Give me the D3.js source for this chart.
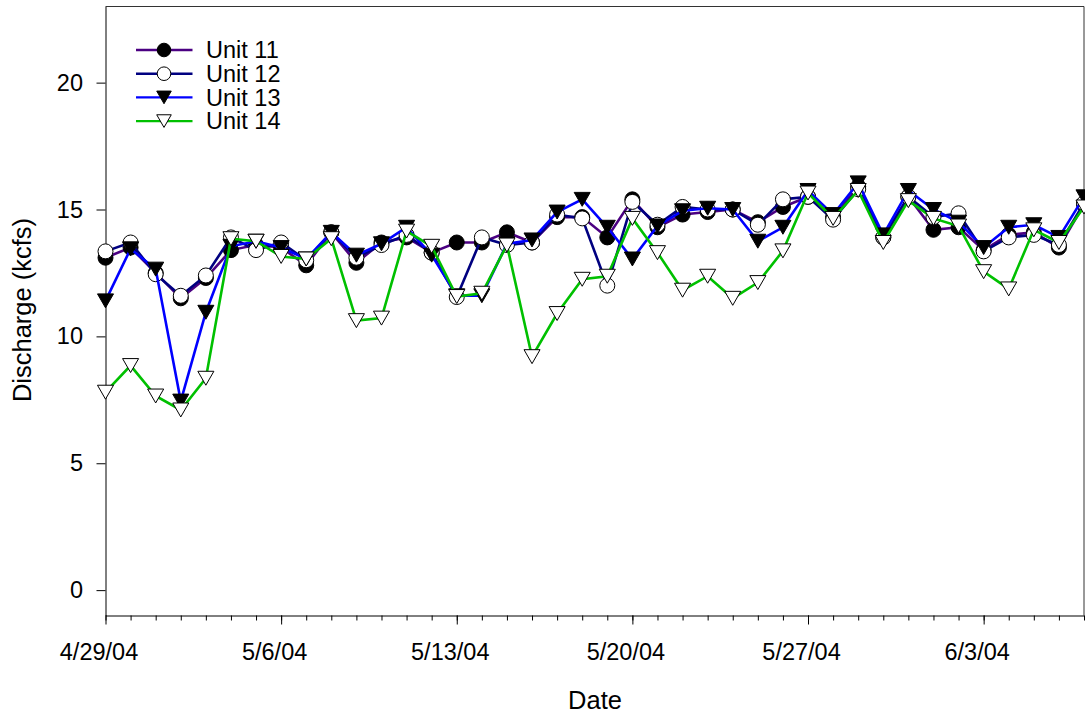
<!DOCTYPE html>
<html>
<head>
<meta charset="utf-8">
<script src="https://cdn.jsdelivr.net/npm/d3@7/dist/d3.min.js"></script>
<style>
  body { margin: 0; background: #fff; }
  svg { display: block; font-family: "Liberation Sans", Arial, sans-serif; }
</style>
</head>
<body>
<svg id="chart" width="1085" height="717"></svg>
<script>
// daily readings, 4/29/04 .. 6/7/04
const dates = [
    '2004-04-29', '2004-04-30', '2004-05-01', '2004-05-02', '2004-05-03', '2004-05-04', '2004-05-05',
    '2004-05-06', '2004-05-07', '2004-05-08', '2004-05-09', '2004-05-10', '2004-05-11', '2004-05-12',
    '2004-05-13', '2004-05-14', '2004-05-15', '2004-05-16', '2004-05-17', '2004-05-18', '2004-05-19',
    '2004-05-20', '2004-05-21', '2004-05-22', '2004-05-23', '2004-05-24', '2004-05-25', '2004-05-26',
    '2004-05-27', '2004-05-28', '2004-05-29', '2004-05-30', '2004-05-31', '2004-06-01', '2004-06-02',
    '2004-06-03', '2004-06-04', '2004-06-05', '2004-06-06', '2004-06-07',
]

const unit11 = [
    13.1, 13.5, 12.5, 11.5, 12.3, 13.4, 13.6, 13.5, 12.8, 14.1,
    12.9, 13.7, 13.9, 13.3, 13.7, 13.7, 14.1, 13.7, 14.7, 14.7,
    13.9, 15.4, 14.3, 14.8, 14.9, 15.0, 14.5, 15.1, 15.5, 14.7,
    15.9, 13.9, 15.5, 14.2, 14.3, 13.4, 14.0, 14.1, 13.5, 15.2,
]
const unit12 = [
    13.35, 13.7, 12.45, 11.6, 12.4, 13.9, 13.4, 13.7, 13.0, 14.1,
    13.1, 13.6, 14.0, 13.3, 11.55, 13.9, 13.6, 13.7, 14.8, 14.65,
    12.0, 15.3, 14.4, 15.1, 15.0, 15.0, 14.4, 15.4, 15.5, 14.6,
    15.8, 13.9, 15.5, 14.7, 14.85, 13.35, 13.9, 14.0, 13.6, 15.25,
]
const unit13 = [
    11.4, 13.45, 12.65, 7.45, 10.95, 13.55, 13.75, 13.5, 13.05, 14.1,
    13.2, 13.65, 14.3, 13.2, 11.6, 11.6, 13.65, 13.8, 14.9, 15.4,
    14.3, 13.05, 14.35, 14.95, 15.05, 15.0, 13.75, 14.3, 15.75, 14.8,
    16.05, 14.0, 15.75, 15.0, 14.5, 13.5, 14.3, 14.4, 13.9, 15.5,
]
const unit14 = [
    7.8, 8.85, 7.65, 7.1, 8.35, 13.85, 13.75, 13.15, 13.05, 13.85,
    10.62, 10.72, 14.15, 13.55, 11.57, 11.7, 13.6, 9.2, 10.9, 12.25,
    12.37, 14.65, 13.3, 11.82, 12.37, 11.5, 12.12, 13.37, 15.65, 14.65,
    15.75, 13.7, 15.35, 14.65, 14.35, 12.55, 11.87, 14.2, 13.7, 15.1,
]

const seriesNames = ['Unit 11', 'Unit 12', 'Unit 13', 'Unit 14']
const seriesColors = ['#4b0082', '#000080', '#0000ff', '#00c000']
const seriesSymbols = ['circle', 'circle', 'triangle', 'triangle']
const seriesFills = ['#000', '#fff', '#000', '#fff']

const xTickDates = ['2004-04-29', '2004-05-06', '2004-05-13', '2004-05-20', '2004-05-27', '2004-06-03']
const yTicks = [0, 5, 10, 15, 20]
const yDomain = [-1, 23]
const xDomain = ['2004-04-29', '2004-06-07']

const parse = d3.timeParse('%Y-%m-%d')
const fmt = d3.timeFormat('%-m/%-d/%y')

const margin = { left: 105.5, top: 6.5, right: 1084, bottom: 615.5 }
const svg = d3.select('#chart')

const x = d3.scaleTime()
    .domain(xDomain.map(parse))
    .range([margin.left, margin.right])
const y = d3.scaleLinear()
    .domain(yDomain)
    .range([margin.bottom, margin.top])

// frame top / right
svg.append('path')
    .attr('d', `M${margin.left},${margin.top}H${margin.right}V${margin.bottom}`)
    .attr('fill', 'none')
    .attr('stroke', '#333')
    .attr('stroke-width', 1)

// minor daily ticks
svg.append('g')
    .attr('transform', `translate(0,${margin.bottom})`)
    .call(d3.axisBottom(x).tickValues(dates.map(parse)).tickSize(5).tickFormat(''))
    .call(g => g.select('.domain').remove())
    .call(g => g.selectAll('line').attr('stroke', '#000'))

// major x axis
svg.append('g')
    .attr('transform', `translate(0,${margin.bottom})`)
    .call(d3.axisBottom(x).tickValues(xTickDates.map(parse)).tickSize(9).tickSizeOuter(0)
        .tickPadding(19).tickFormat(fmt))
    .call(g => g.select('.domain').attr('stroke', '#000'))
    .call(g => g.selectAll('line').attr('stroke', '#000'))
    .call(g => g.selectAll('text')
        .attr('x', -7)
        .attr('fill', '#000')
        .style('font-size', '23.5px')
        .style('font-family', '"Liberation Sans", Arial, sans-serif'))

// y axis
svg.append('g')
    .attr('transform', `translate(${margin.left},0)`)
    .call(d3.axisLeft(y).tickValues(yTicks).tickSize(9).tickSizeOuter(0).tickPadding(13.5))
    .call(g => g.select('.domain').attr('stroke', '#000'))
    .call(g => g.selectAll('line').attr('stroke', '#000'))
    .call(g => g.selectAll('text')
        .attr('fill', '#000')
        .style('font-size', '23.5px')
        .style('font-family', '"Liberation Sans", Arial, sans-serif'))

// axis titles
svg.append('text')
    .attr('transform', 'translate(31,310) rotate(-90)')
    .attr('text-anchor', 'middle')
    .style('font-size', '25.5px')
    .text('Discharge (kcfs)')

svg.append('text')
    .attr('x', 595)
    .attr('y', 709)
    .attr('text-anchor', 'middle')
    .style('font-size', '25.5px')
    .text('Date')

function symbolPath(type, s) {
    if (type === 'circle') {
        return `M${-s},0A${s},${s} 0 1,0 ${s},0A${s},${s} 0 1,0 ${-s},0Z`
    }
    // 下三角
    const h = s * 0.93
    return `M${-s * 1.07},${-h}L${s * 1.07},${-h}L0,${h}Z`
}

const allSeries = [unit11, unit12, unit13, unit14]
const line = d3.line()
    .x(d => x(d.date))
    .y(d => y(d.value))

allSeries.forEach((values, i) => {
    const pts = values.map((v, j) => ({ date: parse(dates[j]), value: v }))
    const g = svg.append('g').attr('class', `series s${i}`)

    g.append('path')
        .datum(pts)
        .attr('d', line)
        .attr('fill', 'none')
        .attr('stroke', seriesColors[i])
        .attr('stroke-width', 2.6)
        .attr('stroke-linejoin', 'miter')

    g.selectAll('path.mark')
        .data(pts)
        .join('path')
        .attr('class', 'mark')
        .attr('transform', d => `translate(${x(d.date)},${y(d.value)})`)
        .attr('d', symbolPath(seriesSymbols[i], 7.5))
        .attr('fill', seriesFills[i])
        .attr('stroke', '#000')
        .attr('stroke-width', 1)
})

// legend
const legend = svg.append('g').attr('class', 'legend')
seriesNames.forEach((name, i) => {
    const cy = 50 + i * 23.7
    legend.append('line')
        .attr('x1', 136).attr('x2', 192.5)
        .attr('y1', cy).attr('y2', cy)
        .attr('stroke', seriesColors[i])
        .attr('stroke-width', 2.4)
    legend.append('path')
        .attr('transform', `translate(164,${cy})`)
        .attr('d', symbolPath(seriesSymbols[i], 6.8))
        .attr('fill', seriesFills[i])
        .attr('stroke', '#000')
        .attr('stroke-width', 1)
    legend.append('text')
        .attr('x', 206)
        .attr('y', cy)
        .attr('dy', '0.35em')
        .style('font-size', '23.5px')
        .text(name)
})
</script>
</body>
</html>
